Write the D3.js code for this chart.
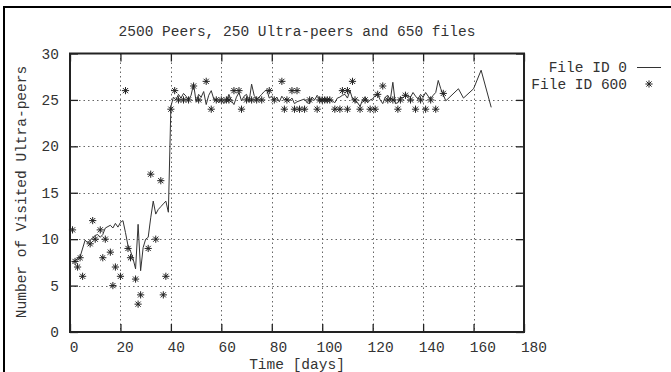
<!DOCTYPE html>
<html>
<head>
<meta charset="utf-8">
<script src="https://cdn.jsdelivr.net/npm/d3@7/dist/d3.min.js"></script>
<style>
  html, body { margin: 0; padding: 0; background: #fff; }
  svg { display: block; }
  text { font-family: "Liberation Mono", "Courier New", monospace; font-size: 14.5px; fill: #333; }
</style>
</head>
<body>
<svg id="chart" width="671" height="372"></svg>
<script>
// File ID 0: average visited ultra-peers per day (line)
const line0Days = [
  1, 2, 4, 6, 7, 8, 10, 11, 12, 13, 14, 16, 17, 18, 19, 20, 21, 22, 23, 24, 25, 26, 27, 28, 29, 30,
  31, 32, 33, 34, 35, 36, 37, 38, 39,
  40, 41, 42, 43, 44, 45, 46, 47, 48, 49, 50, 51, 52, 53, 54, 55, 56, 57, 58, 59, 60,
  61, 62, 63, 64, 65, 66, 67, 68, 69, 70, 71, 72, 73, 74, 75, 76, 77, 78, 79, 80,
  81, 82, 83, 84, 85, 86, 87, 88, 89, 90, 91, 92, 93, 94, 95, 96, 97, 98, 99, 100,
  101, 102, 103, 104, 105, 106, 107, 108, 109, 110, 111, 112, 113, 114, 115, 116, 117, 118, 119, 120,
  121, 122, 123, 124, 125, 126, 127, 128, 129, 130, 131, 132, 133, 134, 135, 136, 137, 138, 139, 140,
  141, 142, 143, 144, 145, 146, 147, 149, 154, 156, 160, 163, 167
];
const line0Values = [
  7.5, 7.7, 8.1, 9.9, 9.6, 9.9, 10.4, 10.5, 10.2, 10.5, 11.2, 11.5, 11.2, 11.7, 11.3, 11.8, 12.0, 10.7, 9.3, 8.7, 7.9, 6.8, 11.6, 6.6, 9.1, 10.0,
  10.2, 12.3, 14.1, 12.7, 13.2, 13.5, 13.8, 14.1, 12.9,
  24.3, 25.3, 25.0, 25.6, 25.2, 25.7, 25.4, 25.0, 25.5, 26.7, 24.8, 25.6, 25.3, 25.9, 24.5, 25.5, 26.0, 25.1, 25.0, 24.7, 25.0,
  24.6, 24.9, 25.6, 24.9, 24.5, 25.3, 25.8, 24.9, 25.4, 25.6, 24.8, 26.7, 25.5, 25.1, 25.3, 25.6, 25.9, 26.1, 25.2, 25.4,
  25.0, 25.3, 24.8, 25.4, 25.0, 25.1, 24.9, 25.2, 24.6, 24.8, 24.9, 25.0, 25.1, 24.7, 24.6, 25.3, 25.0, 25.5, 25.1, 25.0,
  25.2, 25.0, 25.1, 24.9, 24.7, 25.2, 25.3, 25.5, 25.6, 25.2, 26.0, 25.1, 24.8, 24.7, 24.3, 25.0, 25.3, 24.7, 25.0, 25.1,
  25.5, 25.6, 25.0, 24.6, 25.3, 25.5, 25.0, 26.9, 24.6, 24.7, 25.3, 25.2, 25.5, 25.4, 25.3, 25.8, 25.4, 25.1, 25.6, 25.3,
  25.8, 25.4, 25.1, 25.5, 25.8, 27.1, 26.2, 24.9, 26.2, 25.2, 26.2, 28.2, 24.2
];

// File ID 600: visited ultra-peers (points)
const star600Days = [
  1, 2, 3, 4, 5, 8, 9, 10, 12, 13, 14, 16, 17, 18, 20, 22, 23, 24, 26, 27, 28, 31, 32, 34, 36, 37, 38,
  40, 41.5, 43, 45, 47, 49, 51, 54, 56, 58, 60, 62, 63, 65, 67, 68, 70, 72, 74, 76, 79, 81, 84, 85, 86,
  88, 89, 90, 91, 93, 95, 98, 99, 100, 101, 102, 103, 105, 107, 108, 110, 110, 112, 113, 115, 117, 119,
  121, 122, 124, 126, 128, 130, 131, 133, 135, 137, 139, 141, 143, 145, 148
];
const star600Values = [
  11, 7.6, 7.0, 8.0, 6.0, 9.5, 12, 10, 11, 8, 10, 8.6, 5, 7, 6, 26, 9, 8, 5.7, 3, 4, 9, 17, 10, 16.3, 4, 6,
  24, 26, 25, 25, 25, 26.5, 25, 27, 24, 25, 25, 25, 25, 26, 26, 24, 25, 25, 25, 25, 26, 25, 27, 24, 25,
  26, 24, 26, 24, 24, 25, 24, 25, 25, 25, 25, 25, 24, 24, 26, 24, 26, 27, 25, 24, 25, 24,
  24, 25.6, 26.5, 25, 25, 24, 25, 25.5, 25, 24, 25, 24, 25, 24, 25.7
];

const xTicks = [0, 20, 40, 60, 80, 100, 120, 140, 160, 180];
const yTicks = [0, 5, 10, 15, 20, 25, 30];
const seriesNames = ["File ID 0", "File ID 600"];
const titleText = "2500 Peers, 250 Ultra-peers and 650 files";
const xLabel = "Time [days]";
const yLabel = "Number of Visited Ultra-peers";

const svg = d3.select("#chart");
const plot = { left: 70, right: 524, top: 53.5, bottom: 332 };

const x = d3.scaleLinear().domain([0, 180]).range([plot.left, plot.right]);
const y = d3.scaleLinear().domain([0, 30]).range([plot.bottom, plot.top]);

// outer figure border (top and left edges visible)
svg.append("line").attr("x1", 3).attr("x2", 671).attr("y1", 7).attr("y2", 7)
  .attr("stroke", "#000").attr("stroke-width", 2);
svg.append("line").attr("x1", 4).attr("x2", 4).attr("y1", 6).attr("y2", 372)
  .attr("stroke", "#000").attr("stroke-width", 2);

// dotted grid
const grid = svg.append("g").attr("stroke", "#666").attr("stroke-width", 1)
  .attr("stroke-dasharray", "1.5,3");
grid.selectAll(".gx").data(xTicks.slice(1, -1)).join("line")
  .attr("x1", d => Math.round(x(d)) + 0.5).attr("x2", d => Math.round(x(d)) + 0.5)
  .attr("y1", plot.top).attr("y2", plot.bottom);
grid.selectAll(".gy").data(yTicks.slice(1, -1)).join("line")
  .attr("x1", plot.left).attr("x2", plot.right)
  .attr("y1", d => Math.round(y(d)) + 0.5).attr("y2", d => Math.round(y(d)) + 0.5);

// axes with inward ticks on all four sides
const tickLen = 8;
const axisStyle = g => {
  g.select(".domain").remove();
  g.selectAll(".tick line").attr("stroke", "#222").attr("stroke-width", 1.3);
};
svg.append("g").attr("transform", `translate(0,${plot.bottom})`)
  .call(d3.axisBottom(x).tickValues(xTicks).tickSize(-tickLen).tickFormat(""))
  .call(axisStyle);
svg.append("g").attr("transform", `translate(0,${plot.top})`)
  .call(d3.axisTop(x).tickValues(xTicks).tickSize(-tickLen).tickFormat(""))
  .call(axisStyle);
svg.append("g").attr("transform", `translate(${plot.left},0)`)
  .call(d3.axisLeft(y).tickValues(yTicks).tickSize(-tickLen).tickFormat(""))
  .call(axisStyle);
svg.append("g").attr("transform", `translate(${plot.right},0)`)
  .call(d3.axisRight(y).tickValues(yTicks).tickSize(-tickLen).tickFormat(""))
  .call(axisStyle);

// frame
svg.append("rect").attr("x", plot.left).attr("y", plot.top)
  .attr("width", plot.right - plot.left).attr("height", plot.bottom - plot.top)
  .attr("fill", "none").attr("stroke", "#222").attr("stroke-width", 2);

// tick labels
svg.append("g").selectAll("text").data(xTicks).join("text")
  .attr("x", d => x(d) + 4 + d * 0.033).attr("y", 352)
  .attr("text-anchor", "middle").text(d => d);
svg.append("g").selectAll("text").data(yTicks).join("text")
  .attr("x", 59).attr("y", d => y(d) + 5)
  .attr("text-anchor", "end").text(d => d);

// titles
svg.append("text").attr("x", 297).attr("y", 36).attr("text-anchor", "middle").text(titleText);
svg.append("text").attr("x", 297).attr("y", 369).attr("text-anchor", "middle").text(xLabel);
svg.append("text").attr("transform", "translate(26,192) rotate(-90)")
  .attr("text-anchor", "middle").text(yLabel);

// File ID 0 line
const line0 = line0Days.map((d, i) => [d, line0Values[i]]);
svg.append("path").datum(line0)
  .attr("fill", "none").attr("stroke", "#333").attr("stroke-width", 1)
  .attr("stroke-linejoin", "round")
  .attr("d", d3.line().x(d => x(d[0])).y(d => y(d[1])));

// asterisk marker
const r = 3.6, k = r * 0.72;
const starPath = `M${-r},0H${r}M0,${-r}V${r}M${-k},${-k}L${k},${k}M${-k},${k}L${k},${-k}`;

const stars = star600Days.map((d, i) => [d, star600Values[i]]);
svg.append("g").selectAll("path").data(stars).join("path")
  .attr("transform", d => `translate(${x(d[0])},${y(d[1])})`)
  .attr("d", starPath).attr("fill", "none").attr("stroke", "#222").attr("stroke-width", 1);

// legend
const legend = svg.append("g");
legend.append("text").attr("x", 627).attr("y", 72).attr("text-anchor", "end").text(seriesNames[0]);
legend.append("line").attr("x1", 637).attr("x2", 661).attr("y1", 67.5).attr("y2", 67.5)
  .attr("stroke", "#333").attr("stroke-width", 1);
legend.append("text").attr("x", 627).attr("y", 89).attr("text-anchor", "end").text(seriesNames[1]);
legend.append("path").attr("transform", "translate(649,84)").attr("d", starPath)
  .attr("fill", "none").attr("stroke", "#222").attr("stroke-width", 1);
</script>
</body>
</html>
